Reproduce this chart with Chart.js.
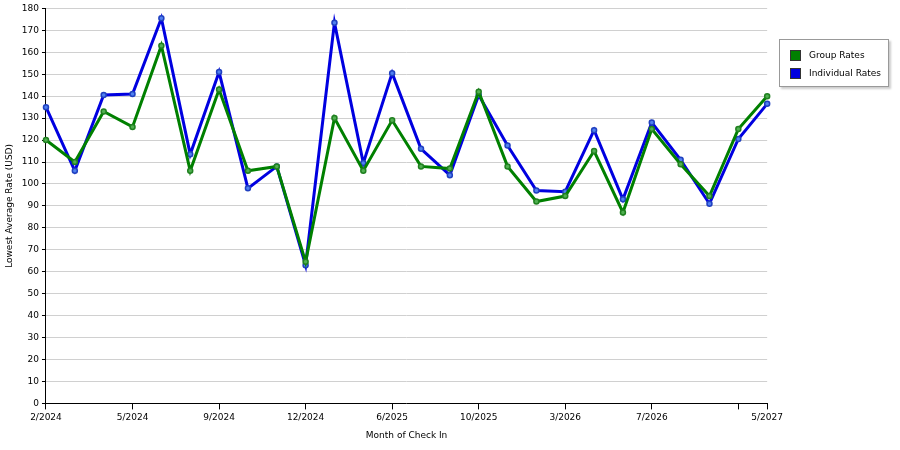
<!DOCTYPE html>
<html><head><meta charset="utf-8">
<script src="https://cdn.jsdelivr.net/npm/chart.js@4"></script>
<style>
body{margin:0;background:#fff;font-family:"DejaVu Sans",sans-serif;}
#wrap{position:absolute;left:0;top:0;width:786px;height:450px;}
#legend{position:absolute;left:779px;top:39px;width:108px;height:46px;border:1px solid #999;font-size:9px;box-shadow:2px 2px 2px #ccc;background:#fff;}
.it{position:absolute;left:10px;height:12px;line-height:12px;}
.sw{display:inline-block;width:11px;height:11px;vertical-align:middle;margin-right:8px;border:1px solid #333;box-sizing:border-box;}
</style></head><body>
<div id="wrap"><canvas id="c"></canvas></div>
<div id="legend">
<div class="it" style="top:9px"><span class="sw" style="background:#008000"></span>Group Rates</div>
<div class="it" style="top:27px"><span class="sw" style="background:#0000e0"></span>Individual Rates</div>
</div>
<script>
const categories=["2/2024","3/2024","4/2024","5/2024","6/2024","8/2024","9/2024","10/2024","11/2024","12/2024","1/2025","4/2025","6/2025","7/2025","8/2025","10/2025","11/2025","1/2026","3/2026","4/2026","5/2026","7/2026","8/2026","9/2026","10/2026","5/2027"];
const shownTicks=[0,3,6,9,12,15,18,21,25];
const groupRates=[120,110,133,126,163,106,143,106,108,64.5,130,106,129,108,107,142,108,92,94.5,115,87,125,109,94.5,125,140];
const individualRates=[135,106,140.5,141,175.5,113.5,151,98,108,63,173.5,109.5,150.5,116,104,140.5,117.5,97,96.5,124.5,93,128,111,91,120.5,136.5];
Chart.defaults.font.family='"DejaVu Sans",sans-serif';
Chart.defaults.font.size=9;
Chart.defaults.color='#000';
new Chart(document.getElementById('c'),{
type:'line',
data:{labels:categories,datasets:[
{label:'Group Rates',data:groupRates,borderColor:'#008000',backgroundColor:'#50b050',pointBorderColor:'#208020',borderWidth:3,pointRadius:2.5,pointBorderWidth:1.5,tension:0,clip:false},
{label:'Individual Rates',data:individualRates,borderColor:'#0000e0',backgroundColor:'#5080f0',pointBorderColor:'#2040c0',borderWidth:3,pointRadius:2.5,pointBorderWidth:1.5,tension:0,clip:false}
]},
options:{responsive:true,maintainAspectRatio:false,animation:false,
layout:{padding:{top:0,right:2,bottom:5}},
plugins:{legend:{display:false},tooltip:{enabled:false}},
scales:{
x:{offset:false,grid:{display:true,drawOnChartArea:false,tickLength:6,color:(c)=>(c.index%3===0||c.index===25)?'#000':'rgba(0,0,0,0)'},border:{color:'#000'},
 ticks:{autoSkip:false,maxRotation:0,callback:(v,i)=>shownTicks.includes(i)?categories[i]:''},
 title:{display:true,text:'Month of Check In',padding:{top:4}}},
y:{min:0,max:180,ticks:{stepSize:10},border:{color:'#000'},
 grid:{color:'#d0d0d0',tickLength:4,tickColor:'#000',drawTicks:true},
 border:{color:'#000',dash:undefined},
 title:{display:true,text:'Lowest Average Rate (USD)'}}
}},
plugins:[{id:'dashgrid',beforeDatasetsDraw(ch){}}]
});
</script></body></html>
